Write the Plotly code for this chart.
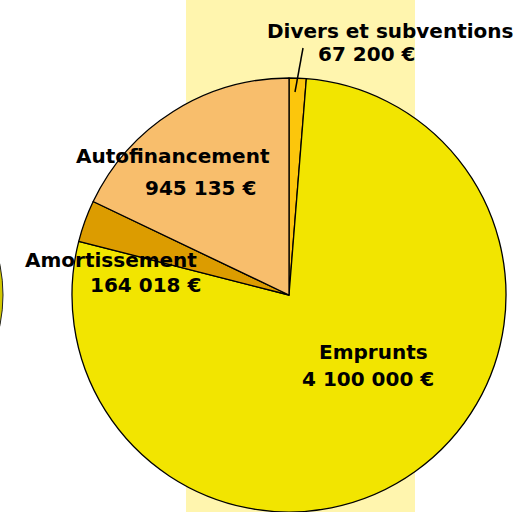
import plotly.graph_objects as go

labels = ["Divers et subventions", "Emprunts", "Amortissement", "Autofinancement"]
values = [67200, 4100000, 164018, 945135]
value_texts = ["67 200 €", "4 100 000 €", "164 018 €", "945 135 €"]
colors = ["#FCC60C", "#F2E500", "#DC9C00", "#F8BE6C"]

W, H = 518, 512

def px(x):
    return x / W

def py(y):
    return 1 - y / H

fig = go.Figure(go.Pie(
    labels=labels,
    values=values,
    sort=False,
    direction="clockwise",
    rotation=0,
    textinfo="none",
    hoverinfo="label+value",
    marker=dict(colors=colors, line=dict(color="#000000", width=1.3)),
    domain=dict(x=[px(72), px(506)], y=[py(512), py(78)]),
    showlegend=False,
))

font = dict(family="DejaVu Sans", size=20, color="#000000")
# label positions (pixel centres)
label_pos = {
    "Divers et subventions": ((390, 31), (366, 54)),
    "Emprunts": ((373, 352), (368, 379)),
    "Amortissement": ((111, 260), (145, 285)),
    "Autofinancement": ((173, 156), (200, 188)),
}
annotations = []
for lab, vt in zip(labels, value_texts):
    (x1, y1), (x2, y2) = label_pos[lab]
    annotations.append(dict(x=px(x1), y=py(y1), xref="paper", yref="paper", text="<b>%s</b>" % lab,
                            showarrow=False, font=font, xanchor="center", yanchor="middle"))
    annotations.append(dict(x=px(x2), y=py(y2), xref="paper", yref="paper", text="<b>%s</b>" % vt,
                            showarrow=False, font=font, xanchor="center", yanchor="middle"))

shapes = [
    dict(type="rect", xref="paper", yref="paper", x0=px(186), x1=px(415), y0=0, y1=1,
         fillcolor="#FFF5AE", line=dict(width=0), layer="below"),
    dict(type="circle", xref="paper", yref="paper", x0=px(-299), x1=px(3), y0=py(446), y1=py(144),
         fillcolor="#D2C800", line=dict(color="#222222", width=1), layer="below"),
    dict(type="line", xref="paper", yref="paper", x0=px(303), y0=py(48), x1=px(295), y1=py(92),
         line=dict(color="#000000", width=1.5), layer="above"),
]

fig.update_layout(
    width=W, height=H,
    margin=dict(l=0, r=0, t=0, b=0),
    paper_bgcolor="#FFFFFF",
    plot_bgcolor="#FFFFFF",
    annotations=annotations,
    shapes=shapes,
)

fig.write_html("out.html", config={"displayModeBar": False},
               post_script="document.body.style.margin='0px';")
